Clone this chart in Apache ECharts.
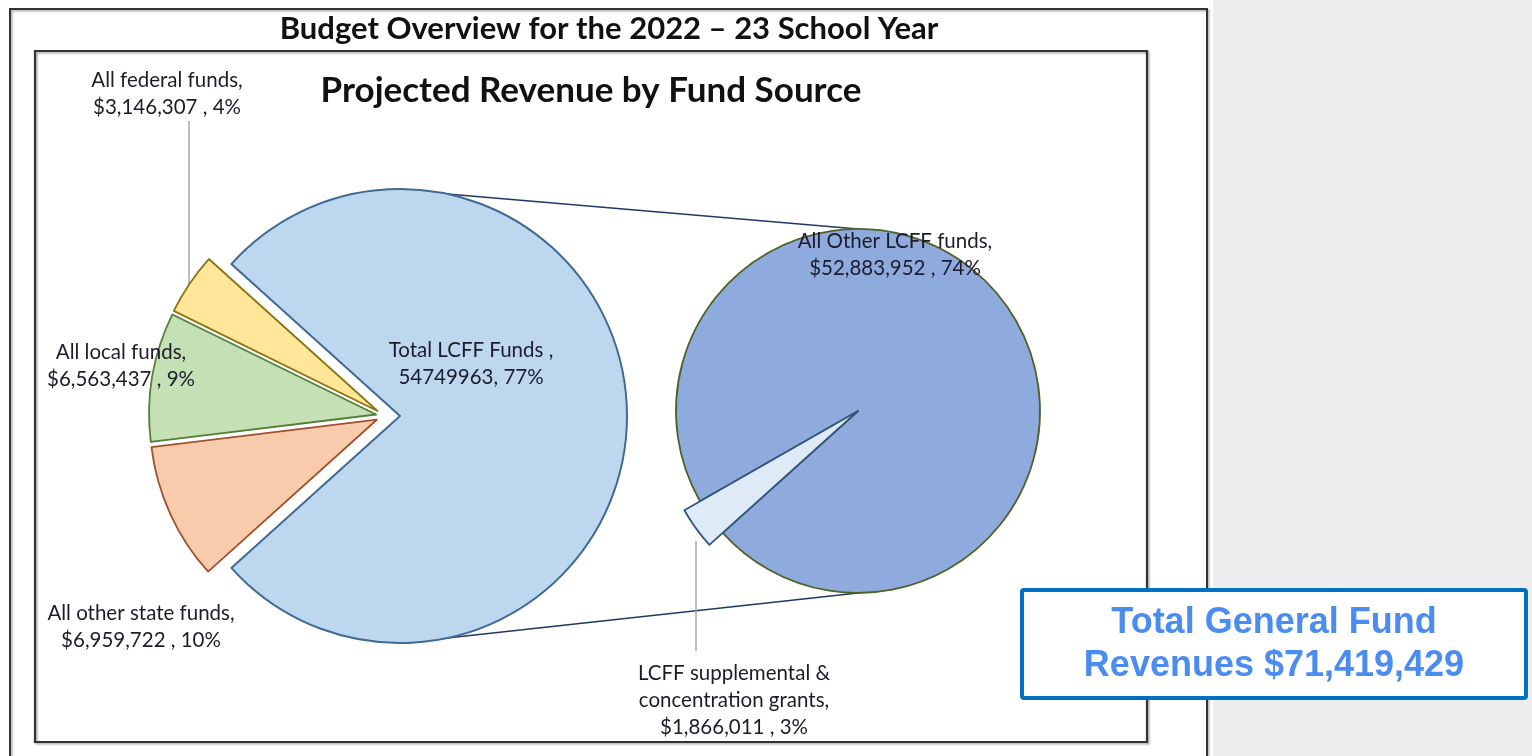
<!DOCTYPE html>
<html>
<head>
<meta charset="utf-8">
<script src="https://cdn.jsdelivr.net/npm/echarts@6/dist/echarts.min.js"></script>
<style>
  html, body { margin: 0; padding: 0; background: #fff; }
  #chart { width: 1532px; height: 756px; }
</style>
</head>
<body>
<div id="chart"></div>
<script>
// ---------- DATA ----------
const fundSources = ['Total LCFF Funds', 'All other state funds', 'All local funds', 'All federal funds'];
const fundValues = [54749963, 6959722, 6563437, 3146307];
const lcffParts = ['LCFF supplemental &\nconcentration grants', 'All Other LCFF funds'];
const lcffPartValues = [1866011, 52883952];
const mainTitle = 'Budget Overview for the 2022 \u2013 23 School Year';
const chartTitle = 'Projected Revenue by Fund Source';
const totalText = ['Total General Fund', 'Revenues $71,419,429'];

// ---------- LAYOUT / STYLE ----------
const L = { cx: 400, cy: 416, r: 227, smallCx: 385, explode: 9 };
const R = { cx: 858, cy: 411, r: 182, smallR: 200, startAngle: 222 };
const connectAngle = 78;
const fills = ['#BDD7EE', '#F8CBAD', '#C5E0B4', '#FFE699'];
const borders = ['#3F6A93', '#A0522D', '#557F37', '#8C7314'];
const rFills = ['#DEEBF7', '#8FAADC'];
const rBorders = ['#2F5580', '#4F6228'];
const labelPosLeft = [[471, 364], [141, 627], [121, 366], [167, 94]];
const labelPosRight = [[734, 700], [895, 255]];
const leaderLines = [[[189, 121], [189, 284]], [[696, 541], [696, 651]]];
const FONT = 'Lato, "Open Sans", sans-serif';
const TXT = '#1c1c2c';

const total = fundValues.reduce((a, b) => a + b, 0);
const fmt = v => v.toLocaleString('en-US');
const pct = v => Math.round(v / total * 100);

function leftLabel(i) {
  const v = fundValues[i];
  if (i === 0) return fundSources[i] + ' ,\n' + v + ', ' + pct(v) + '%';
  return fundSources[i] + ',\n$' + fmt(v) + ' , ' + pct(v) + '%';
}
function rightLabel(i) {
  const v = lcffPartValues[i];
  return lcffParts[i] + ',\n$' + fmt(v) + ' , ' + pct(v) + '%';
}

const hidden = { color: 'rgba(0,0,0,0)', borderWidth: 0 };
const lcffShare = fundValues[0] / total;
const leftStart = 360 * lcffShare / 2;

const labelBase = {
  show: true, position: 'inside', color: TXT, fontFamily: FONT,
  fontSize: 20.5, lineHeight: 27, align: 'center'
};

function pieCommon() {
  return {
    type: 'pie', clockwise: true, avoidLabelOverlap: false,
    labelLine: { show: false }, emphasis: { disabled: true },
    silent: true, animation: false, minAngle: 0
  };
}

// main left pie: draws LCFF slice + all left labels
const seriesLeftMain = Object.assign(pieCommon(), {
  center: [L.cx, L.cy], radius: L.r, startAngle: leftStart, z: 5,
  data: fundValues.map((v, i) => ({
    name: fundSources[i], value: v,
    itemStyle: i === 0 ? { color: fills[0], borderColor: borders[0], borderWidth: 2 } : hidden,
    label: Object.assign({}, labelBase, { formatter: () => leftLabel(i) })
  })),
  labelLayout: p => ({ x: labelPosLeft[p.dataIndex][0], y: labelPosLeft[p.dataIndex][1], align: 'center', verticalAlign: 'middle' })
});

// exploded small slices: one series per slice, centre pushed out along its mid-angle
const smallSeries = [];
let cum = 0;
fundValues.forEach((v, i) => {
  const mid = (leftStart - 360 * (cum + v / 2) / total) * Math.PI / 180;
  cum += v;
  if (i === 0) return;
  smallSeries.push(Object.assign(pieCommon(), {
    center: [L.smallCx + L.explode * Math.cos(mid), L.cy - L.explode * Math.sin(mid)],
    radius: L.r, startAngle: leftStart, z: 3,
    data: fundValues.map((vv, j) => ({
      name: fundSources[j], value: vv,
      itemStyle: j === i ? { color: fills[j], borderColor: borders[j], borderWidth: 1.8 } : hidden,
      label: { show: false }
    }))
  }));
});

const seriesRightMain = Object.assign(pieCommon(), {
  center: [R.cx, R.cy], radius: R.r, startAngle: R.startAngle, z: 3,
  data: lcffPartValues.map((v, i) => ({
    name: lcffParts[i], value: v,
    itemStyle: i === 1 ? { color: rFills[1], borderColor: rBorders[1], borderWidth: 1.8 } : hidden,
    label: i === 1 ? Object.assign({}, labelBase, { formatter: () => rightLabel(1) }) : { show: false }
  })),
  labelLayout: p => ({ x: labelPosRight[p.dataIndex][0], y: labelPosRight[p.dataIndex][1], align: 'center', verticalAlign: 'middle' })
});

const seriesRightSmall = Object.assign(pieCommon(), {
  center: [R.cx, R.cy], radius: R.smallR, startAngle: R.startAngle, z: 4,
  data: lcffPartValues.map((v, i) => ({
    name: lcffParts[i], value: v,
    itemStyle: i === 0 ? { color: rFills[0], borderColor: rBorders[0], borderWidth: 1.8 } : hidden,
    label: i === 0 ? Object.assign({}, labelBase, { formatter: () => rightLabel(0) }) : { show: false }
  })),
  labelLayout: p => ({ x: labelPosRight[p.dataIndex][0], y: labelPosRight[p.dataIndex][1], align: 'center', verticalAlign: 'middle' })
});

// connector lines between the two pies
const a = connectAngle * Math.PI / 180;
const topL = [L.cx + L.r * Math.cos(a), L.cy - L.r * Math.sin(a)];
const botL = [L.cx + L.r * Math.cos(a), L.cy + L.r * Math.sin(a)];
const topR = [R.cx, R.cy - R.r];
const botR = [R.cx, R.cy + R.r];

const frameShadow = { shadowColor: 'rgba(0,0,0,0.35)', shadowBlur: 2, shadowOffsetX: 1.5, shadowOffsetY: 1.5 };

const graphics = [
  { type: 'rect', z: -10, shape: { x: 1213, y: 0, width: 1532 - 1213, height: 756 }, style: { fill: '#EDEDF0' } },
  { type: 'rect', z: -5, shape: { x: 10, y: 9, width: 1197, height: 780 }, style: Object.assign({ fill: 'none', stroke: '#333', lineWidth: 2 }, frameShadow) },
  { type: 'rect', z: -5, shape: { x: 35, y: 51, width: 1112, height: 691 }, style: Object.assign({ fill: 'none', stroke: '#333', lineWidth: 2.2 }, frameShadow) },
  { type: 'text', z: 5, x: 609, y: 29, style: { text: mainTitle, textAlign: 'center', textVerticalAlign: 'middle', font: 'bold 31px ' + FONT, fill: '#111' } },
  { type: 'text', z: 5, x: 591, y: 91, style: { text: chartTitle, textAlign: 'center', textVerticalAlign: 'middle', font: 'bold 35px ' + FONT, fill: '#111' } },
  { type: 'line', z: 1, shape: { x1: topL[0], y1: topL[1], x2: topR[0], y2: topR[1] }, style: { stroke: '#203864', lineWidth: 1.5 } },
  { type: 'line', z: 1, shape: { x1: botL[0], y1: botL[1], x2: botR[0], y2: botR[1] }, style: { stroke: '#203864', lineWidth: 1.5 } },
  { type: 'polyline', z: 1, shape: { points: leaderLines[0] }, style: { stroke: '#A6A6A6', lineWidth: 1.5, fill: 'none' } },
  { type: 'polyline', z: 1, shape: { points: leaderLines[1] }, style: { stroke: '#A6A6A6', lineWidth: 1.5, fill: 'none' } },
  { type: 'rect', z: 20, shape: { x: 1022, y: 590, width: 504, height: 108, r: 2 }, style: { fill: '#fff', stroke: '#0070C0', lineWidth: 4 } },
  { type: 'text', z: 21, x: 1274, y: 623, style: { text: totalText[0], textAlign: 'center', textVerticalAlign: 'middle', font: 'bold 36px "Liberation Sans", Arial, sans-serif', fill: '#4A8CF0' } },
  { type: 'text', z: 21, x: 1274, y: 666, style: { text: totalText[1], textAlign: 'center', textVerticalAlign: 'middle', font: 'bold 36px "Liberation Sans", Arial, sans-serif', fill: '#4A8CF0' } }
];

const chart = echarts.init(document.getElementById('chart'), null, { renderer: 'canvas' });
chart.setOption({
  backgroundColor: '#fff',
  animation: false,
  graphic: { elements: graphics },
  series: [seriesLeftMain].concat(smallSeries, [seriesRightMain, seriesRightSmall])
});
</script>
</body>
</html>
